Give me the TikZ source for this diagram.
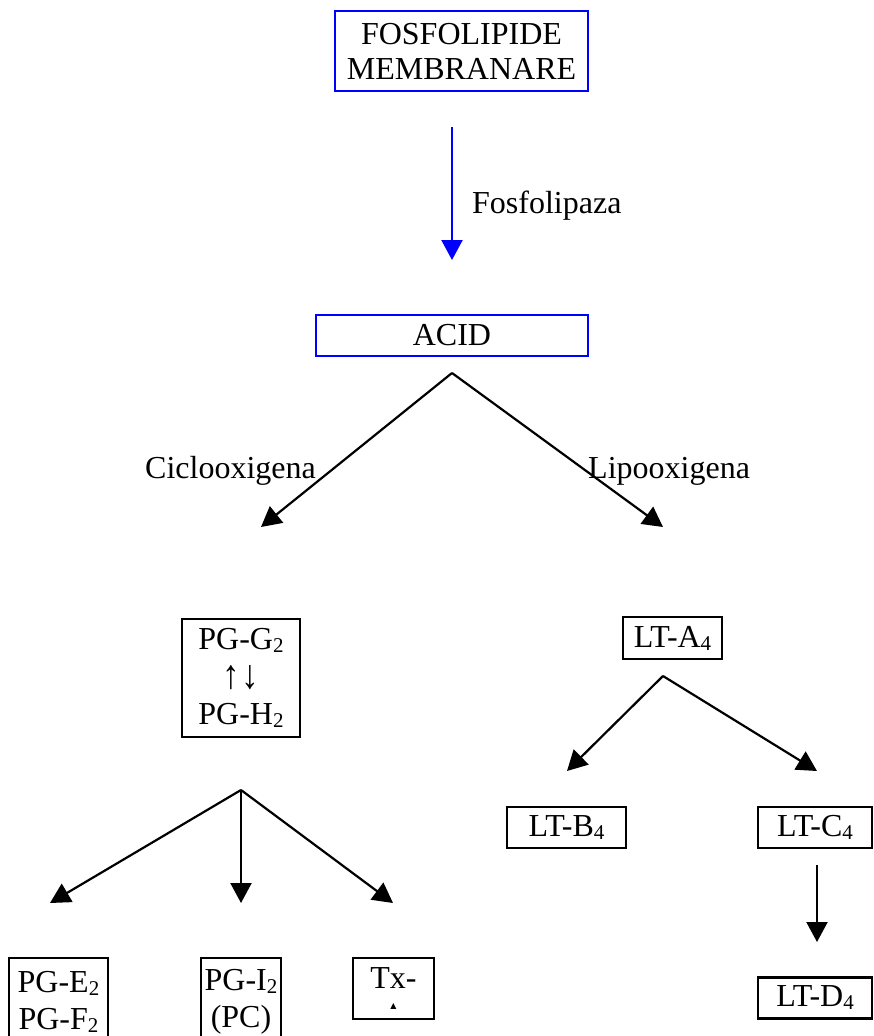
\documentclass[tikz,border=0pt]{standalone}
\usepackage{fontspec}
\setmainfont{Liberation Serif}
\newfontfamily\symfont{DejaVu Sans}
\usetikzlibrary{arrows.meta}
\newcommand\sbs[1]{\raisebox{-3pt}{\fontsize{21}{21}\selectfont #1}}
\begin{document}
\begin{tikzpicture}[x=1pt,y=-1pt,
  box/.style={draw, line width=2.2pt, inner sep=0pt, align=center, font=\fontsize{32}{37}\selectfont},
  bluebox/.style={box, draw=blue, line width=2.6pt},
  lbl/.style={inner sep=0pt, anchor=base west, font=\fontsize{32}{37}\selectfont},
  arr/.style={line width=2.2pt, -{Triangle[length=20pt,width=21pt]}},
  bluearr/.style={arr, draw=blue, fill=blue},
]
\useasboundingbox (0,0) rectangle (873,1036);
\clip (0,0) rectangle (873,1036);

% boxes
\node[bluebox, minimum width=253pt, minimum height=80pt, font=\fontsize{32}{35}\selectfont] (fos) at (461.5,51) {FOSFOLIPIDE\\MEMBRANARE};
\node[bluebox, minimum width=272pt, minimum height=41pt] (acid) at (452,335.5) {ACID};
\node[box, minimum width=118pt, minimum height=118pt, font=\fontsize{32}{37.5}\selectfont] (pgg) at (241,678) {PG-G\sbs{2}\\\raisebox{-1pt}{\scalebox{1.1}[1.28]{↑\kern1pt↓}}\\PG-H\sbs{2}};
\node[box, minimum width=99pt, minimum height=42pt] (lta) at (672.5,638) {LT-A\sbs{4}};
\node[box, minimum width=119pt, minimum height=41pt] (ltb) at (566.5,827.5) {LT-B\sbs{4}};
\node[box, minimum width=114pt, minimum height=41pt] (ltc) at (815,827.5) {LT-C\sbs{4}};
\node[box, minimum width=114pt, minimum height=41pt] (ltd) at (815,998) {LT-D\sbs{4}};
\node[box, minimum width=99pt, minimum height=87pt, anchor=north] (pge) at (58.5,957) {PG-E\sbs{2}\\PG-F\sbs{2}};
\node[box, minimum width=80pt, minimum height=87pt, anchor=north] (pgi) at (241,957) {PG-I\sbs{2}\\(PC)};
\node[box, minimum width=81pt, minimum height=61pt] (tx) at (393.5,988.5) {Tx-\\[-17pt]{\symfont\fontsize{8}{8}\selectfont ▲}};

% labels
\node[lbl] (fosl) at (472,213) {Fosfolipaza};
\node[lbl] (cicl) at (145,478) {Ciclooxigena};
\node[lbl] (lipo) at (588,478) {Lipooxigena};

% connector points
\coordinate (fa) at (452,127);
\coordinate (fb) at (452,260);
\coordinate (ap1) at (452,373);
\coordinate (tc) at (261,527);
\coordinate (tl) at (663,527);
\coordinate (ap2) at (663,676);
\coordinate (tb) at (567,771);
\coordinate (tcc) at (817,771);
\coordinate (c1) at (817,865);
\coordinate (c2) at (817,942);
\coordinate (ap3) at (241,790);
\coordinate (te) at (50,903);
\coordinate (ti) at (241,903);
\coordinate (tt) at (393,903);

\draw[bluearr] (fa) -- (fb);
\draw[arr] (ap1) -- (tc);
\draw[arr] (ap1) -- (tl);
\draw[arr] (ap2) -- (tb);
\draw[arr] (ap2) -- (tcc);
\draw[arr] (c1) -- (c2);
\draw[arr] (ap3) -- (te);
\draw[arr] (ap3) -- (ti);
\draw[arr] (ap3) -- (tt);
\end{tikzpicture}
\end{document}
